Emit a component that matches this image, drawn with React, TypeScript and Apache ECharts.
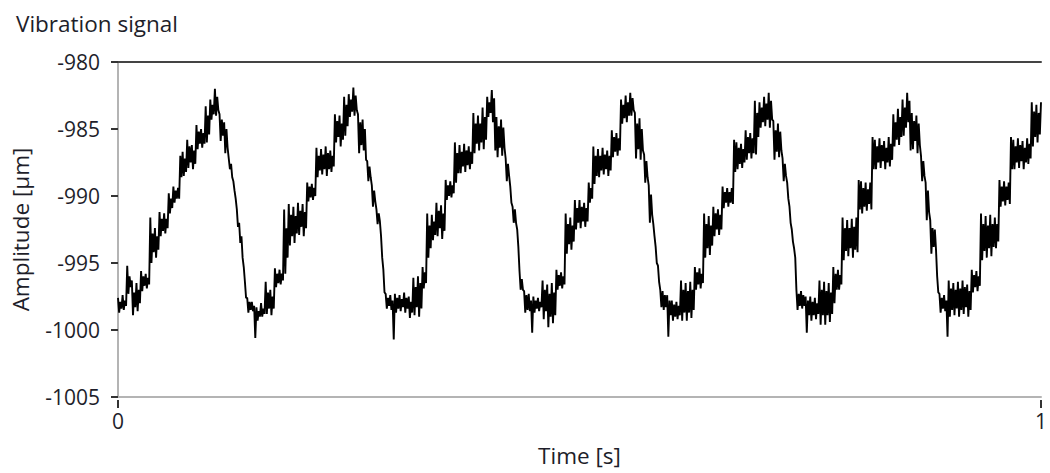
import React, { useEffect, useRef } from "react";
import * as echarts from "echarts";

const TITLE = "Vibration signal";
const X_NAME = "Time [s]";
const Y_NAME = "Amplitude [µm]";
const SAMPLE_STEP = 0.00125; // seconds between samples
const X_TICKS = [0, 1];
const Y_TICKS = [-1005, -1000, -995, -990, -985, -980];

// Amplitude samples [µm], one every 1.25 ms from t = 0 to t = 1 s
const amplitude: number[] = [
  -997.6, -998.7, -997.9, -998.4, -997.4, -998.5, -997.8, -998.2, -995.2, -997.3, -996.0, -996.8, -996.3, -998.9, -997.2, -998.3, -996.5, -998.6, -997.0, -998.0,
  -995.6, -997.1, -996.0, -996.7, -995.8, -996.9, -996.1, -996.6, -991.6, -995.0, -992.8, -994.2, -992.4, -994.6, -993.0, -994.0, -991.2, -993.0, -991.7, -992.6,
  -991.3, -992.8, -991.7, -992.4, -989.8, -991.3, -990.2, -990.9, -989.3, -990.5, -989.6, -990.2, -989.4, -990.2, -987.0, -988.6, -986.7, -988.5, -987.2, -988.2,
  -985.8, -987.9, -986.3, -987.5, -986.2, -988.0, -986.6, -987.6, -984.7, -986.5, -985.2, -986.1, -985.0, -986.4, -985.3, -986.1, -983.3, -986.0, -984.0, -985.4,
  -982.8, -984.3, -983.2, -983.9, -982.0, -984.0, -982.6, -983.6, -983.9, -985.9, -984.3, -985.5, -984.5, -986.8, -985.0, -986.4, -987.2, -988.0, -987.6, -988.6,
  -988.9, -989.6, -990.2, -991.0, -992.3, -992.0, -993.5, -993.0, -994.6, -995.3, -996.4, -997.6, -997.6, -998.7, -997.9, -998.5, -997.9, -998.6, -998.2, -1000.6,
  -998.3, -999.3, -998.6, -999.0, -998.0, -999.0, -998.4, -998.8, -996.4, -998.8, -997.2, -998.4, -997.0, -998.9, -997.5, -998.4, -995.4, -996.8, -995.8, -996.5,
  -995.5, -996.6, -995.8, -996.3, -991.0, -995.8, -992.4, -994.6, -990.6, -993.7, -991.4, -993.0, -990.8, -993.5, -991.5, -992.8, -990.5, -992.9, -991.1, -992.3,
  -990.6, -993.0, -991.2, -992.4, -989.0, -990.4, -989.3, -990.1, -989.1, -990.3, -989.4, -990.0, -986.4, -988.6, -987.0, -988.1, -986.5, -988.4, -986.9, -988.0,
  -986.3, -988.5, -986.8, -988.0, -986.6, -988.2, -987.0, -987.8, -983.9, -986.0, -984.4, -985.6, -984.0, -986.3, -984.6, -985.8, -982.6, -985.5, -983.2, -984.8,
  -982.4, -984.1, -982.8, -983.7, -981.9, -984.0, -982.5, -983.6, -983.9, -986.8, -984.5, -986.2, -984.3, -986.6, -985.0, -987.3, -987.4, -988.9, -987.8, -988.6,
  -989.2, -990.8, -989.6, -990.4, -991.0, -992.1, -991.3, -991.9, -993.0, -994.6, -995.5, -997.2, -997.3, -998.4, -997.6, -998.2, -997.4, -998.5, -997.8, -1000.7,
  -997.3, -998.7, -997.6, -998.4, -997.4, -998.6, -997.7, -998.3, -997.2, -998.7, -997.6, -998.4, -997.5, -999.1, -997.9, -998.7, -996.1, -998.9, -996.8, -998.3,
  -996.0, -999.0, -996.5, -998.4, -995.3, -996.9, -995.7, -996.5, -991.3, -994.6, -992.2, -993.9, -991.4, -993.3, -991.9, -992.9, -990.5, -993.0, -991.1, -992.4,
  -990.7, -993.2, -991.3, -992.6, -988.8, -990.3, -989.2, -990.0, -988.9, -990.1, -989.2, -989.8, -986.0, -989.0, -986.8, -988.3, -986.2, -988.3, -986.7, -987.8,
  -986.1, -988.2, -986.6, -987.7, -986.3, -988.0, -986.7, -987.6, -983.8, -986.8, -984.6, -986.1, -984.0, -986.6, -984.6, -986.0, -983.4, -986.5, -984.1, -985.8,
  -982.6, -984.1, -983.0, -983.8, -982.1, -984.5, -982.7, -986.6, -984.1, -987.1, -984.8, -986.4, -984.3, -987.0, -984.9, -986.4, -987.2, -988.9, -987.6, -988.5,
  -989.3, -990.5, -990.8, -992.0, -991.0, -992.0, -992.5, -993.8, -995.6, -997.0, -996.2, -997.0, -997.1, -998.7, -997.4, -998.5, -997.3, -998.6, -997.8, -1000.2,
  -997.5, -998.7, -997.8, -998.4, -997.6, -998.6, -997.9, -998.3, -996.3, -999.2, -997.0, -998.6, -996.6, -999.8, -997.3, -999.0, -996.5, -999.5, -997.2, -998.9,
  -995.5, -997.0, -995.9, -996.7, -995.7, -996.9, -996.0, -996.6, -991.3, -994.3, -992.1, -993.6, -991.6, -994.0, -992.2, -993.4, -990.3, -992.5, -990.9, -992.0,
  -990.3, -992.4, -990.8, -991.9, -990.5, -992.3, -990.9, -991.9, -989.0, -990.5, -989.4, -990.2, -986.3, -989.1, -987.0, -988.5, -986.5, -988.6, -987.0, -988.1,
  -986.4, -988.4, -986.9, -988.0, -986.6, -988.5, -987.0, -988.1, -985.1, -987.1, -985.6, -986.7, -985.3, -987.0, -985.7, -986.6, -982.8, -984.6, -983.2, -984.2,
  -982.5, -984.5, -983.0, -984.0, -982.3, -984.0, -982.7, -983.6, -983.8, -987.2, -984.6, -986.5, -984.2, -987.3, -985.0, -986.6, -986.9, -989.0, -987.4, -988.6,
  -989.2, -992.0, -989.9, -991.4, -992.1, -993.0, -993.8, -995.0, -995.2, -996.4, -997.0, -998.3, -997.1, -998.5, -997.4, -998.3, -997.4, -1000.5, -997.8, -998.9,
  -997.8, -999.3, -998.1, -999.0, -997.9, -999.2, -998.2, -998.9, -996.3, -999.3, -997.0, -998.7, -996.5, -999.3, -997.1, -998.7, -996.4, -999.1, -997.0, -998.5,
  -995.3, -997.0, -995.7, -996.6, -995.4, -996.9, -995.8, -996.5, -991.3, -994.6, -992.1, -993.9, -991.5, -994.4, -992.2, -993.7, -990.8, -993.0, -991.3, -992.5,
  -991.0, -992.9, -991.4, -992.5, -989.3, -990.9, -989.7, -990.5, -989.4, -990.8, -989.7, -990.5, -989.4, -990.6, -985.8, -988.2, -986.0, -988.0, -986.4, -987.6,
  -986.1, -987.9, -986.5, -987.5, -985.1, -987.3, -985.6, -986.8, -985.3, -987.2, -985.7, -986.8, -982.9, -986.9, -983.8, -985.6, -983.0, -984.9, -983.4, -984.5,
  -982.6, -984.8, -983.1, -984.3, -982.3, -984.9, -982.9, -984.3, -984.4, -987.3, -985.1, -986.7, -984.6, -987.1, -985.2, -986.6, -987.2, -988.9, -987.6, -988.5,
  -989.0, -990.2, -990.8, -992.0, -992.5, -993.4, -993.9, -994.6, -997.0, -998.5, -997.3, -998.2, -997.1, -998.4, -997.4, -998.2, -997.5, -1000.2, -997.8, -998.9,
  -997.5, -999.3, -997.9, -998.9, -997.6, -999.2, -998.0, -998.8, -996.3, -999.6, -997.0, -998.9, -996.4, -999.6, -997.1, -998.9, -996.5, -999.4, -997.2, -998.8,
  -995.3, -998.0, -995.8, -997.0, -995.5, -997.0, -995.9, -996.6, -991.6, -994.8, -992.4, -994.1, -991.8, -994.5, -992.4, -993.9, -991.7, -994.6, -992.3, -994.0,
  -991.6, -994.2, -988.8, -991.0, -988.9, -991.3, -989.4, -990.8, -989.0, -991.1, -989.5, -990.6, -989.0, -991.0, -985.6, -988.0, -985.8, -988.0, -986.3, -987.5,
  -985.7, -987.9, -986.2, -987.4, -985.9, -988.0, -986.4, -987.5, -985.6, -987.8, -986.1, -987.3, -983.9, -986.3, -984.5, -985.8, -983.5, -986.2, -984.1, -985.6,
  -982.8, -985.5, -983.4, -984.9, -982.3, -984.5, -982.9, -986.6, -983.8, -986.5, -984.4, -985.9, -984.0, -986.8, -984.6, -986.2, -987.0, -988.9, -987.4, -988.5,
  -989.0, -991.8, -989.6, -991.2, -991.8, -994.3, -992.4, -993.8, -992.5, -994.0, -996.0, -997.2, -997.3, -998.7, -997.6, -998.4, -997.4, -998.6, -997.8, -1000.5,
  -996.3, -999.0, -996.9, -998.5, -996.5, -998.9, -997.0, -998.4, -996.4, -999.0, -996.9, -998.5, -996.3, -998.8, -996.8, -998.3, -996.6, -999.0, -997.1, -998.5,
  -995.5, -997.2, -995.9, -996.8, -995.6, -997.1, -996.0, -996.7, -991.3, -994.8, -992.1, -994.1, -991.5, -994.6, -992.2, -993.9, -991.4, -994.5, -992.1, -993.8,
  -991.6, -993.9, -992.1, -993.4, -988.8, -990.8, -989.3, -990.4, -988.9, -990.7, -989.3, -990.3, -989.0, -990.6, -985.6, -988.0, -985.8, -988.0, -986.3, -987.5,
  -985.7, -987.9, -986.2, -987.4, -985.9, -988.0, -986.4, -987.5, -985.7, -987.6, -986.1, -987.2, -983.0, -986.3, -983.7, -985.6, -983.2, -986.0, -983.8, -985.4,
  -983.0,
];

const FONT = "'Open Sans', 'Noto Sans', sans-serif";
const TEXT_COLOR = "#1e1e2a";

export default function App() {
  const ref = useRef<HTMLDivElement>(null);

  useEffect(() => {
    document.body.style.margin = "0";
    if (!ref.current) return;
    const chart = echarts.init(ref.current, undefined, { renderer: "svg" });
    const data = amplitude.map((v, i) => [Number((i * SAMPLE_STEP).toFixed(5)), v]);
    const yMin = Y_TICKS[0];
    const yMax = Y_TICKS[Y_TICKS.length - 1];
    const xMin = X_TICKS[0];
    const xMax = X_TICKS[X_TICKS.length - 1];
    const plain = (v: number) => String(v);

    chart.setOption({
      animation: false,
      backgroundColor: "#ffffff",
      title: {
        text: TITLE,
        left: 11,
        top: 7,
        textStyle: { fontFamily: FONT, fontSize: 22.5, fontWeight: "normal", color: TEXT_COLOR },
      },
      grid: { left: 118, top: 62, right: 7, bottom: 76, containLabel: false },
      xAxis: [
        {
          type: "value",
          min: xMin,
          max: xMax,
          interval: 1,
          position: "bottom",
          axisLine: { show: true, lineStyle: { color: "#b4b4b4", width: 2 } },
          axisTick: { show: false },
          axisLabel: { show: false },
          splitLine: { show: false },
          name: X_NAME,
          nameLocation: "middle",
          nameGap: 47,
          nameTextStyle: { fontFamily: FONT, fontSize: 22.5, color: TEXT_COLOR },
        },
        {
          type: "value",
          min: xMin,
          max: xMax,
          interval: 1,
          position: "bottom",
          offset: 3,
          axisLine: { show: false },
          axisTick: { show: true, length: 8, lineStyle: { color: "#333", width: 2 } },
          axisLabel: {
            show: true,
            margin: 10,
            fontFamily: FONT,
            fontSize: 21,
            color: TEXT_COLOR,
            formatter: plain,
          },
          splitLine: { show: false },
        },
        {
          type: "value",
          min: xMin,
          max: xMax,
          position: "top",
          axisLine: { show: true, lineStyle: { color: "#444", width: 2 } },
          axisTick: { show: false },
          axisLabel: { show: false },
          splitLine: { show: false },
        },
      ],
      yAxis: [
        {
          type: "value",
          min: yMin,
          max: yMax,
          interval: 5,
          position: "left",
          axisLine: { show: true, lineStyle: { color: "#333", width: 2 } },
          axisTick: { show: false },
          axisLabel: { show: false },
          splitLine: { show: false },
          name: Y_NAME,
          nameLocation: "middle",
          nameGap: 86,
          nameTextStyle: { fontFamily: FONT, fontSize: 22.5, color: TEXT_COLOR },
        },
        {
          type: "value",
          min: yMin,
          max: yMax,
          interval: 5,
          position: "left",
          offset: 5,
          axisLine: { show: false },
          axisTick: { show: true, length: 7, lineStyle: { color: "#333", width: 2 } },
          axisLabel: {
            show: true,
            margin: 13,
            fontFamily: FONT,
            fontSize: 21,
            color: TEXT_COLOR,
            formatter: plain,
          },
          splitLine: { show: false },
        },
        {
          type: "value",
          min: yMin,
          max: yMax,
          position: "right",
          axisLine: { show: true, lineStyle: { color: "#b4b4b4", width: 2 } },
          axisTick: { show: false },
          axisLabel: { show: false },
          splitLine: { show: false },
        },
      ],
      series: [
        {
          type: "line",
          xAxisIndex: 0,
          yAxisIndex: 0,
          data,
          showSymbol: false,
          symbol: "none",
          lineStyle: { color: "#000000", width: 1.9 },
          silent: true,
        },
      ],
    });

    return () => {
      chart.dispose();
    };
  }, []);

  return (
    <div
      ref={ref}
      style={{ position: "absolute", left: 0, top: 0, width: 1050, height: 473 }}
    />
  );
}
